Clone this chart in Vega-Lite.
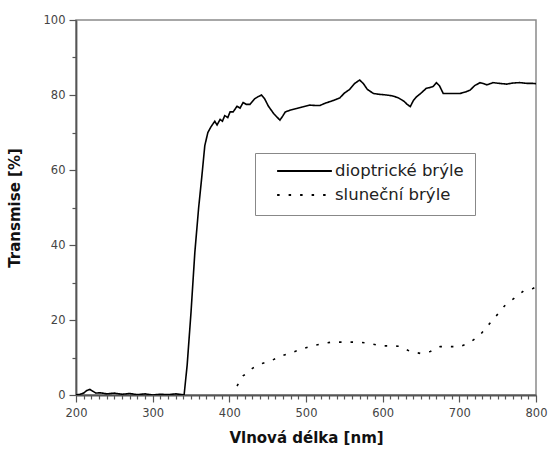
{
  "$schema": "https://vega.github.io/schema/vega-lite/v6.json",
  "autosize": {"type": "none"},
  "padding": {"left": 76, "top": 20, "right": 14, "bottom": 57},
  "width": 460,
  "height": 375,
  "background": "white",
  "config": {
    "view": {"stroke": "#8a8a8a", "strokeWidth": 1.5},
    "font": "DejaVu Sans"
  },
  "data": {"values": [
    {"w":200,"t":0,"s":"dioptrické brýle"},{"w":205,"t":0.2,"s":"dioptrické brýle"},{"w":210,"t":0.5,"s":"dioptrické brýle"},{"w":214,"t":1.2,"s":"dioptrické brýle"},{"w":218,"t":1.5,"s":"dioptrické brýle"},{"w":222,"t":1,"s":"dioptrické brýle"},{"w":226,"t":0.5,"s":"dioptrické brýle"},{"w":232,"t":0.6,"s":"dioptrické brýle"},{"w":240,"t":0.3,"s":"dioptrické brýle"},{"w":250,"t":0.5,"s":"dioptrické brýle"},{"w":260,"t":0.2,"s":"dioptrické brýle"},{"w":270,"t":0.4,"s":"dioptrické brýle"},{"w":280,"t":0.1,"s":"dioptrické brýle"},{"w":290,"t":0.3,"s":"dioptrické brýle"},{"w":300,"t":0,"s":"dioptrické brýle"},{"w":310,"t":0.2,"s":"dioptrické brýle"},{"w":320,"t":0.1,"s":"dioptrické brýle"},{"w":330,"t":0.3,"s":"dioptrické brýle"},{"w":338,"t":0.1,"s":"dioptrické brýle"},{"w":341,"t":0,"s":"dioptrické brýle"},{"w":345,"t":8,"s":"dioptrické brýle"},{"w":350,"t":22,"s":"dioptrické brýle"},{"w":355,"t":38,"s":"dioptrické brýle"},{"w":360,"t":50,"s":"dioptrické brýle"},{"w":364,"t":58,"s":"dioptrické brýle"},{"w":368,"t":66.5,"s":"dioptrické brýle"},{"w":372,"t":70,"s":"dioptrické brýle"},{"w":376,"t":71.5,"s":"dioptrické brýle"},{"w":381,"t":73,"s":"dioptrické brýle"},{"w":384,"t":72,"s":"dioptrické brýle"},{"w":388,"t":73.5,"s":"dioptrické brýle"},{"w":391,"t":73,"s":"dioptrické brýle"},{"w":394,"t":74.5,"s":"dioptrické brýle"},{"w":398,"t":74,"s":"dioptrické brýle"},{"w":401,"t":75.5,"s":"dioptrické brýle"},{"w":405,"t":75.5,"s":"dioptrické brýle"},{"w":410,"t":77,"s":"dioptrické brýle"},{"w":414,"t":76.5,"s":"dioptrické brýle"},{"w":418,"t":78,"s":"dioptrické brýle"},{"w":422,"t":77.5,"s":"dioptrické brýle"},{"w":427,"t":77.5,"s":"dioptrické brýle"},{"w":433,"t":79,"s":"dioptrické brýle"},{"w":437,"t":79.5,"s":"dioptrické brýle"},{"w":442,"t":80,"s":"dioptrické brýle"},{"w":446,"t":79,"s":"dioptrické brýle"},{"w":451,"t":77,"s":"dioptrické brýle"},{"w":458,"t":75,"s":"dioptrické brýle"},{"w":466,"t":73.3,"s":"dioptrické brýle"},{"w":470,"t":74.5,"s":"dioptrické brýle"},{"w":473,"t":75.5,"s":"dioptrické brýle"},{"w":480,"t":76,"s":"dioptrické brýle"},{"w":488,"t":76.4,"s":"dioptrické brýle"},{"w":495,"t":76.8,"s":"dioptrické brýle"},{"w":505,"t":77.3,"s":"dioptrické brýle"},{"w":512,"t":77.2,"s":"dioptrické brýle"},{"w":518,"t":77.2,"s":"dioptrické brýle"},{"w":525,"t":77.8,"s":"dioptrické brýle"},{"w":535,"t":78.5,"s":"dioptrické brýle"},{"w":544,"t":79.2,"s":"dioptrické brýle"},{"w":550,"t":80.5,"s":"dioptrické brýle"},{"w":557,"t":81.5,"s":"dioptrické brýle"},{"w":563,"t":83,"s":"dioptrické brýle"},{"w":570,"t":84,"s":"dioptrické brýle"},{"w":575,"t":83,"s":"dioptrické brýle"},{"w":580,"t":81.5,"s":"dioptrické brýle"},{"w":588,"t":80.4,"s":"dioptrické brýle"},{"w":595,"t":80.2,"s":"dioptrické brýle"},{"w":605,"t":80,"s":"dioptrické brýle"},{"w":612,"t":79.8,"s":"dioptrické brýle"},{"w":620,"t":79.3,"s":"dioptrické brýle"},{"w":628,"t":78.3,"s":"dioptrické brýle"},{"w":632,"t":77.5,"s":"dioptrické brýle"},{"w":636,"t":76.9,"s":"dioptrické brýle"},{"w":640,"t":78.5,"s":"dioptrické brýle"},{"w":644,"t":79.5,"s":"dioptrické brýle"},{"w":650,"t":80.5,"s":"dioptrické brýle"},{"w":657,"t":81.8,"s":"dioptrické brýle"},{"w":662,"t":82,"s":"dioptrické brýle"},{"w":666,"t":82.3,"s":"dioptrické brýle"},{"w":670,"t":83.3,"s":"dioptrické brýle"},{"w":674,"t":82.5,"s":"dioptrické brýle"},{"w":679,"t":80.4,"s":"dioptrické brýle"},{"w":690,"t":80.4,"s":"dioptrické brýle"},{"w":701,"t":80.4,"s":"dioptrické brýle"},{"w":708,"t":80.8,"s":"dioptrické brýle"},{"w":714,"t":81.3,"s":"dioptrické brýle"},{"w":720,"t":82.5,"s":"dioptrické brýle"},{"w":727,"t":83.3,"s":"dioptrické brýle"},{"w":732,"t":83,"s":"dioptrické brýle"},{"w":736,"t":82.7,"s":"dioptrické brýle"},{"w":744,"t":83.3,"s":"dioptrické brýle"},{"w":752,"t":83.1,"s":"dioptrické brýle"},{"w":762,"t":82.9,"s":"dioptrické brýle"},{"w":770,"t":83.2,"s":"dioptrické brýle"},{"w":779,"t":83.3,"s":"dioptrické brýle"},{"w":788,"t":83.1,"s":"dioptrické brýle"},{"w":796,"t":83.1,"s":"dioptrické brýle"},{"w":800,"t":83,"s":"dioptrické brýle"},
    {"w":410,"t":2.4,"s":"sluneční brýle"},{"w":418,"t":5.1,"s":"sluneční brýle"},{"w":430,"t":7.1,"s":"sluneční brýle"},{"w":443,"t":8.4,"s":"sluneční brýle"},{"w":455,"t":9.2,"s":"sluneční brýle"},{"w":468,"t":10.4,"s":"sluneční brýle"},{"w":481,"t":11.3,"s":"sluneční brýle"},{"w":494,"t":12.2,"s":"sluneční brýle"},{"w":507,"t":13.1,"s":"sluneční brýle"},{"w":520,"t":13.6,"s":"sluneční brýle"},{"w":533,"t":14.1,"s":"sluneční brýle"},{"w":547,"t":14.1,"s":"sluneční brýle"},{"w":560,"t":14.1,"s":"sluneční brýle"},{"w":573,"t":14,"s":"sluneční brýle"},{"w":583,"t":13.8,"s":"sluneční brýle"},{"w":597,"t":13.1,"s":"sluneční brýle"},{"w":610,"t":13.1,"s":"sluneční brýle"},{"w":623,"t":13,"s":"sluneční brýle"},{"w":636,"t":11.6,"s":"sluneční brýle"},{"w":649,"t":11.1,"s":"sluneční brýle"},{"w":662,"t":11.6,"s":"sluneční brýle"},{"w":675,"t":12.9,"s":"sluneční brýle"},{"w":688,"t":12.9,"s":"sluneční brýle"},{"w":701,"t":12.9,"s":"sluneční brýle"},{"w":714,"t":14,"s":"sluneční brýle"},{"w":727,"t":16,"s":"sluneční brýle"},{"w":738,"t":18.7,"s":"sluneční brýle"},{"w":749,"t":21.3,"s":"sluneční brýle"},{"w":760,"t":24,"s":"sluneční brýle"},{"w":773,"t":26,"s":"sluneční brýle"},{"w":784,"t":27.8,"s":"sluneční brýle"},{"w":796,"t":28.4,"s":"sluneční brýle"},{"w":800,"t":28.8,"s":"sluneční brýle"}
  ]},
  "mark": {"type": "line", "strokeWidth": 1.6, "clip": true},
  "encoding": {
    "x": {
      "field": "w", "type": "quantitative",
      "scale": {"domain": [200, 800], "nice": false, "zero": false},
      "axis": {
        "title": "Vlnová délka [nm]",
        "values": [200,210,220,230,240,250,260,270,280,290,300,310,320,330,340,350,360,370,380,390,400,410,420,430,440,450,460,470,480,490,500,510,520,530,540,550,560,570,580,590,600,610,620,630,640,650,660,670,680,690,700,710,720,730,740,750,760,770,780,790,800],
        "labelExpr": "datum.value % 100 === 0 ? datum.label : ''",
        "labelOverlap": false,
        "labelFlush": false,
        "grid": false,
        "domainColor": "#555",
        "domainWidth": 1.8,
        "tickColor": "#555",
        "tickWidth": 1.2,
        "tickSize": {"condition": {"test": "datum.value % 100 === 0", "value": 7}, "value": 4},
        "labelFont": "DejaVu Sans",
        "labelFontSize": 11.5,
        "labelColor": "#444",
        "labelPadding": 5,
        "titleFont": "DejaVu Sans",
        "titleFontSize": 15,
        "titleFontWeight": "bold",
        "titleColor": "#111",
        "titlePadding": 12
      }
    },
    "y": {
      "field": "t", "type": "quantitative",
      "scale": {"domain": [0, 100], "nice": false},
      "axis": {
        "title": "Transmise [%]",
        "values": [0,10,20,30,40,50,60,70,80,90,100],
        "labelExpr": "datum.value % 20 === 0 ? datum.label : ''",
        "labelOverlap": false,
        "labelFlush": false,
        "grid": false,
        "domainColor": "#555",
        "domainWidth": 1.8,
        "tickColor": "#555",
        "tickWidth": 1.2,
        "tickSize": {"condition": {"test": "datum.value % 20 === 0", "value": 7}, "value": 4},
        "labelFont": "DejaVu Sans",
        "labelFontSize": 11.5,
        "labelColor": "#444",
        "labelPadding": 4,
        "titleFont": "DejaVu Sans",
        "titleFontSize": 15,
        "titleFontWeight": "bold",
        "titleColor": "#111",
        "titlePadding": 21
      }
    },
    "color": {
      "field": "s", "type": "nominal",
      "scale": {"domain": ["dioptrické brýle", "sluneční brýle"], "range": ["#000000", "#000000"]},
      "legend": {
        "title": null,
        "orient": "none",
        "legendX": 179,
        "legendY": 133,
        "symbolType": "stroke",
        "symbolSize": 3000,
        "symbolStrokeWidth": 1.8,
        "symbolOffset": 10,
        "clipHeight": 14,
        "labelFont": "DejaVu Sans",
        "labelFontSize": 16.5,
        "labelColor": "#222",
        "labelOffset": 2,
        "labelExpr": "datum.label + '       '",
        "rowPadding": 7,
        "padding": 11,
        "strokeColor": "#888",
        "fillColor": "white"
      }
    },
    "strokeDash": {
      "field": "s", "type": "nominal",
      "scale": {"domain": ["dioptrické brýle", "sluneční brýle"], "range": [[1, 0], [2.5, 9]]},
      "legend": null
    }
  }
}
